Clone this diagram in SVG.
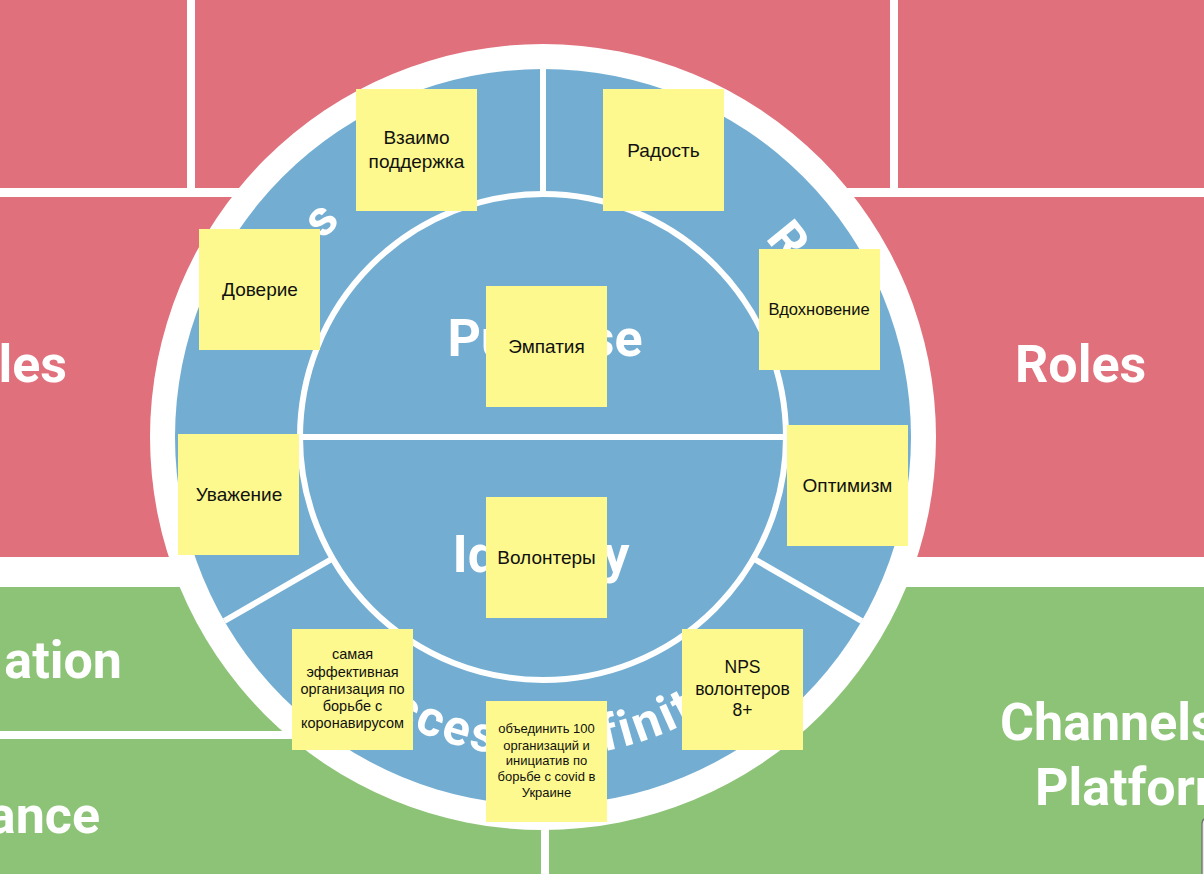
<svg xmlns="http://www.w3.org/2000/svg" width="1204" height="874" viewBox="0 0 1204 874">
<style>
.red{fill:#E0707C}
.green{fill:#8DC376}
.ptxt{font-family:Roboto,"Liberation Sans",sans-serif;font-weight:700;font-size:52px;fill:#FFFFFF}
.rtxt{font-family:Roboto,"Liberation Sans",sans-serif;font-weight:700;font-size:50px;fill:#FFFFFF}
.note rect{fill:#FDF98E}
.note text{font-family:"Liberation Sans",Arial,sans-serif;fill:#111111;text-anchor:middle}
.div{stroke:#FFFFFF;stroke-width:6;fill:none}
</style>
<defs>
<path id="bottomArc" d="M 223,437 A 320,320 0 0 0 863,437"/>
</defs>
<rect width="1204" height="874" fill="#FFFFFF"/>
<g id="panels">
<rect class="red" x="0" y="0" width="187" height="188"/>
<rect class="red" x="195" y="0" width="695" height="188"/>
<rect class="red" x="898" y="0" width="306" height="188"/>
<rect class="red" x="0" y="197" width="540" height="360"/>
<rect class="red" x="548" y="197" width="656" height="360"/>
<rect class="green" x="0" y="587" width="541" height="144"/>
<rect class="green" x="0" y="739" width="541" height="135"/>
<rect class="green" x="549" y="587" width="655" height="287"/>
<text class="ptxt" x="67" y="382" text-anchor="end">les</text>
<text class="ptxt" x="1015" y="382">Roles</text>
<text class="ptxt" x="122" y="678" text-anchor="end">ation</text>
<text class="ptxt" x="100" y="833" text-anchor="end">ance</text>
<text class="ptxt" x="1000" y="740">Channels</text>
<text class="ptxt" x="1035" y="805">Platform</text>
</g>
<g id="wheel">
<circle cx="543" cy="437" r="393" fill="#FFFFFF"/>
<circle cx="543" cy="437" r="368" fill="#73AED2"/>
<circle cx="543" cy="437" r="243" class="div"/>
<text class="ptxt" x="545" y="356" text-anchor="middle">Purpose</text>
<text class="ptxt" x="541" y="572" text-anchor="middle">Identity</text>
<text class="rtxt" transform="translate(332,231) rotate(-45)" text-anchor="middle">s</text>
<text class="rtxt" transform="translate(775,251) rotate(51)" text-anchor="middle">R</text>
<text class="rtxt" letter-spacing="2.6"><textPath href="#bottomArc" startOffset="276">Success Definition</textPath></text>
</g>
<g id="connectors">
<line class="div" x1="300" y1="437" x2="786" y2="437"/>
<line class="div" x1="543" y1="67" x2="543" y2="196"/>
<line class="div" x1="332.6" y1="558.5" x2="224.3" y2="621"/>
<line class="div" x1="753.4" y1="558.5" x2="861.7" y2="621"/>
</g>
<g id="note-vzaimo" class="note">
<rect x="356" y="89" width="121" height="122"/>
<text x="416.5" y="144" font-size="19">Взаимо</text>
<text x="416.5" y="168" font-size="19">поддержка</text>
</g>
<g id="note-radost" class="note">
<rect x="603" y="89" width="121" height="122"/>
<text x="663.5" y="157" font-size="19">Радость</text>
</g>
<g id="note-doverie" class="note">
<rect x="199" y="229" width="121" height="121"/>
<text x="260" y="296" font-size="19">Доверие</text>
</g>
<g id="note-vdohnovenie" class="note">
<rect x="759" y="249" width="121" height="121"/>
<text x="819" y="315" font-size="16.5">Вдохновение</text>
</g>
<g id="note-empatiya" class="note">
<rect x="486" y="286" width="121" height="121"/>
<text x="546.5" y="353" font-size="19">Эмпатия</text>
</g>
<g id="note-uvazhenie" class="note">
<rect x="178" y="434" width="121" height="121"/>
<text x="239" y="501" font-size="19">Уважение</text>
</g>
<g id="note-optimizm" class="note">
<rect x="787" y="425" width="121" height="121"/>
<text x="847.5" y="492" font-size="19">Оптимизм</text>
</g>
<g id="note-volontery" class="note">
<rect x="486" y="497" width="121" height="121"/>
<text x="546.5" y="564" font-size="19">Волонтеры</text>
</g>
<g id="note-samaya" class="note">
<rect x="292" y="629" width="121" height="121"/>
<text x="352.5" y="659" font-size="14.5">самая</text>
<text x="352.5" y="676.5" font-size="14.5">эффективная</text>
<text x="352.5" y="693.5" font-size="14.5">организация по</text>
<text x="352.5" y="711" font-size="14.5">борьбе с</text>
<text x="352.5" y="728" font-size="14.5">коронавирусом</text>
</g>
<g id="note-nps" class="note">
<rect x="682" y="629" width="121" height="121"/>
<text x="742.5" y="673" font-size="17.5">NPS</text>
<text x="742.5" y="695" font-size="17.5">волонтеров</text>
<text x="742.5" y="716" font-size="17.5">8+</text>
</g>
<g id="note-obedinit" class="note">
<rect x="486" y="701" width="121" height="121"/>
<text x="546.5" y="733" font-size="13">объединить 100</text>
<text x="546.5" y="749.5" font-size="13">организаций и</text>
<text x="546.5" y="765" font-size="13">инициатив по</text>
<text x="546.5" y="781" font-size="13">борьбе с covid в</text>
<text x="546.5" y="797" font-size="13">Украине</text>
</g>
<path d="M1204,818 H1208 Q1202,818 1202,824 V874 H1204 Z" fill="#E6E6E6"/>
<path d="M1202,874 V824 Q1202,818 1208,818" fill="none" stroke="#6B6B6B" stroke-width="1.2"/>
</svg>
